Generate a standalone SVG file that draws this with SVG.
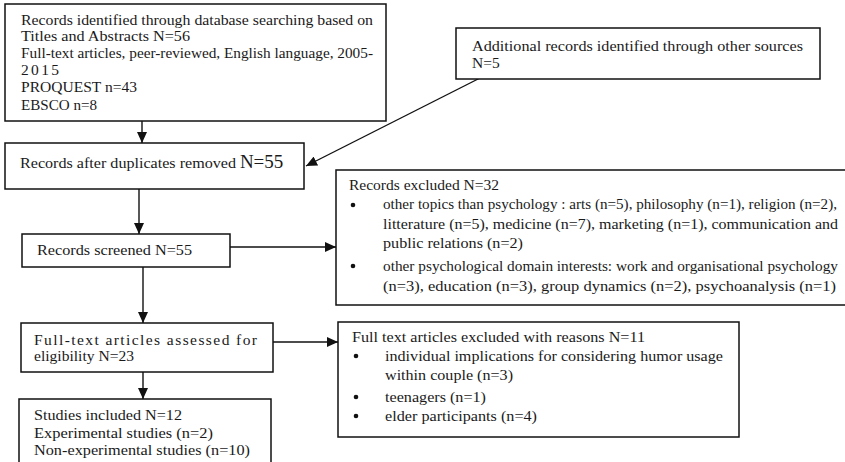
<svg xmlns="http://www.w3.org/2000/svg" width="845" height="462" viewBox="0 0 845 462">
<defs>
<style>
.box{fill:#fff;stroke:#111;stroke-width:1.5}
.t{font-family:"Liberation Serif","Times New Roman",serif;font-size:15.5px;fill:#1a1a1a}
.big{font-size:19px}
.con{stroke:#111;stroke-width:1.4;fill:none;marker-end:url(#ah)}
.dot{fill:#111}
</style>
<marker id="ah" markerUnits="userSpaceOnUse" markerWidth="12" markerHeight="10" refX="11" refY="5" orient="auto">
<path d="M0,0 L11,5 L0,10 Z" fill="#111"/>
</marker>
</defs>
<rect width="845" height="462" fill="#fff"/>

<g id="connectors">
<line class="con" x1="142" y1="121" x2="142" y2="143"/>
<line class="con" x1="480" y1="78" x2="306" y2="166"/>
<line class="con" x1="139" y1="189" x2="139" y2="234"/>
<line class="con" x1="230" y1="247" x2="336" y2="247"/>
<line class="con" x1="143" y1="267" x2="143" y2="323"/>
<line class="con" x1="273" y1="342" x2="338" y2="342"/>
<line class="con" x1="143" y1="372" x2="143" y2="399"/>
</g>

<g id="identified">
<rect class="box" x="5" y="4" width="381" height="117"/>
<text class="t" x="21" y="25" textLength="352" lengthAdjust="spacingAndGlyphs">Records identified through database searching based on</text>
<text class="t" x="21" y="41" textLength="169" lengthAdjust="spacingAndGlyphs">Titles and Abstracts N=56</text>
<text class="t" x="21" y="58" textLength="352" lengthAdjust="spacingAndGlyphs">Full-text articles, peer-reviewed, English language, 2005-</text>
<text class="t" x="21" y="75" textLength="38" lengthAdjust="spacing">2015</text>
<text class="t" x="21" y="92" textLength="116" lengthAdjust="spacingAndGlyphs">PROQUEST n=43</text>
<text class="t" x="21" y="110" textLength="76" lengthAdjust="spacingAndGlyphs">EBSCO n=8</text>
</g>

<g id="additional">
<rect class="box" x="456" y="28" width="364" height="51"/>
<text class="t" x="472" y="51" textLength="331" lengthAdjust="spacingAndGlyphs">Additional records identified through other sources</text>
<text class="t" x="472" y="68">N=5</text>
</g>

<g id="duplicates">
<rect class="box" x="5" y="143" width="299" height="46"/>
<text class="t" x="20" y="168"><tspan textLength="216" lengthAdjust="spacingAndGlyphs">Records after duplicates removed</tspan> <tspan class="big">N=55</tspan></text>
</g>

<g id="screened">
<rect class="box" x="22" y="234" width="208" height="33"/>
<text class="t" x="37" y="255" textLength="155" lengthAdjust="spacingAndGlyphs">Records screened N=55</text>
</g>

<g id="excluded">
<rect class="box" x="336" y="170" width="520" height="135"/>
<text class="t" x="349" y="190" textLength="150" lengthAdjust="spacingAndGlyphs">Records excluded N=32</text>
<circle class="dot" cx="353" cy="205" r="2.3"/>
<text class="t" x="383" y="209" textLength="454" lengthAdjust="spacingAndGlyphs">other topics than psychology : arts (n=5), philosophy (n=1), religion (n=2),</text>
<text class="t" x="383" y="229" textLength="455" lengthAdjust="spacingAndGlyphs">litterature (n=5), medicine (n=7), marketing (n=1), communication and</text>
<text class="t" x="383" y="248" textLength="140" lengthAdjust="spacingAndGlyphs">public relations (n=2)</text>
<circle class="dot" cx="353" cy="266" r="2.3"/>
<text class="t" x="383" y="271" textLength="455" lengthAdjust="spacingAndGlyphs">other psychological domain interests: work and organisational psychology</text>
<text class="t" x="383" y="291" textLength="453" lengthAdjust="spacingAndGlyphs">(n=3), education (n=3), group dynamics (n=2), psychoanalysis (n=1)</text>
</g>

<g id="assessed">
<rect class="box" x="21" y="323" width="252" height="49"/>
<text class="t" x="34" y="345" textLength="223" lengthAdjust="spacing">Full-text articles assessed for</text>
<text class="t" x="34" y="361" textLength="100" lengthAdjust="spacingAndGlyphs">eligibility N=23</text>
</g>

<g id="fulltext-excluded">
<rect class="box" x="338" y="322" width="401" height="115"/>
<text class="t" x="352" y="342" textLength="293" lengthAdjust="spacingAndGlyphs">Full text articles excluded with reasons N=11</text>
<circle class="dot" cx="356" cy="356" r="2.3"/>
<text class="t" x="385" y="361" textLength="338" lengthAdjust="spacingAndGlyphs">individual implications for considering humor usage</text>
<text class="t" x="385" y="380" textLength="128" lengthAdjust="spacingAndGlyphs">within couple (n=3)</text>
<circle class="dot" cx="356" cy="397" r="2.3"/>
<text class="t" x="385" y="402" textLength="101" lengthAdjust="spacingAndGlyphs">teenagers (n=1)</text>
<circle class="dot" cx="356" cy="416" r="2.3"/>
<text class="t" x="385" y="421" textLength="152" lengthAdjust="spacingAndGlyphs">elder participants (n=4)</text>
</g>

<g id="included">
<rect class="box" x="19" y="399" width="252" height="80"/>
<text class="t" x="34" y="420" textLength="148" lengthAdjust="spacingAndGlyphs">Studies included N=12</text>
<text class="t" x="34" y="438" textLength="179" lengthAdjust="spacingAndGlyphs">Experimental studies (n=2)</text>
<text class="t" x="34" y="455" textLength="216" lengthAdjust="spacingAndGlyphs">Non-experimental studies (n=10)</text>
</g>
</svg>
